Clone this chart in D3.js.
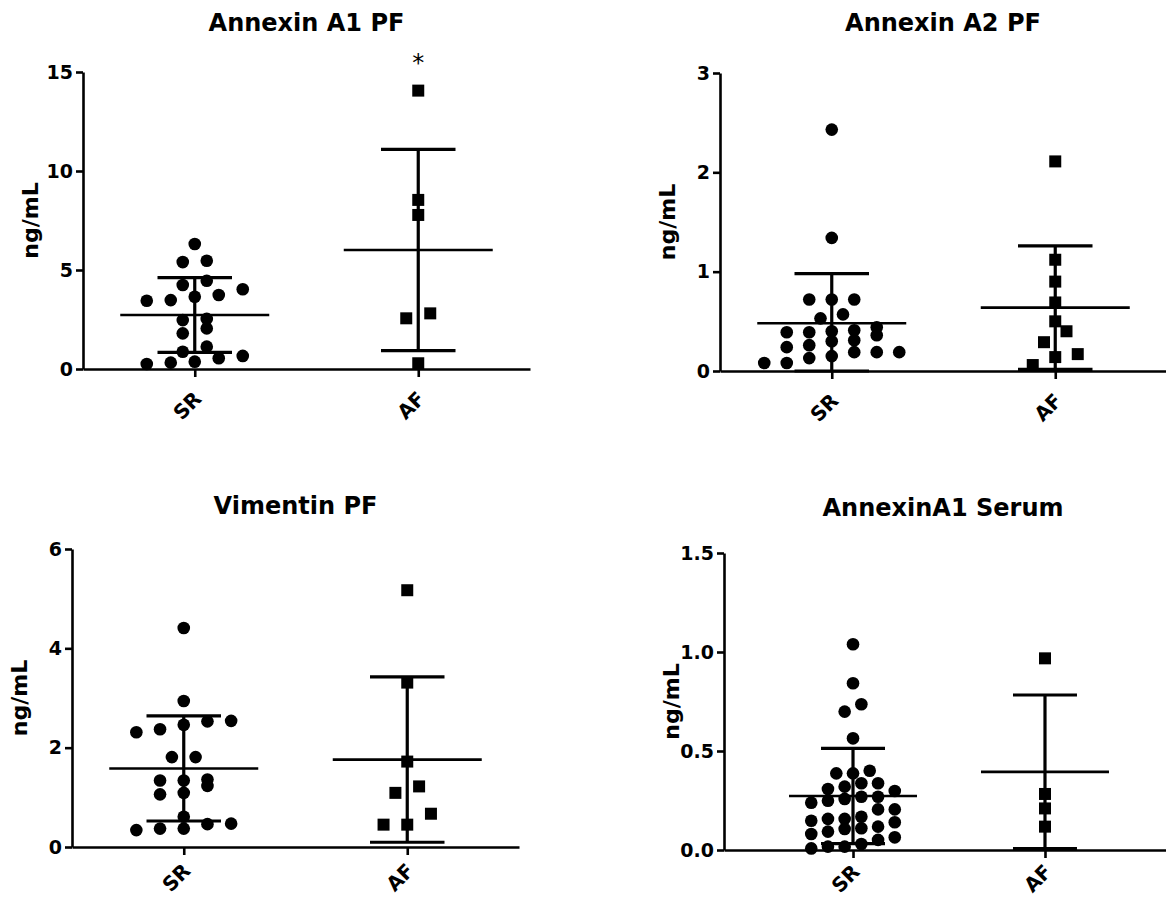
<!DOCTYPE html>
<html>
<head>
<meta charset="utf-8">
<script src="https://cdn.jsdelivr.net/npm/d3@7"></script>
<style>
  body { margin: 0; background: #fff; }
  text { font-family: "DejaVu Sans", "Liberation Sans", sans-serif; font-weight: bold; fill: #000; }
</style>
</head>
<body>
<svg id="chart" width="1166" height="901"></svg>
<script>
// groups on every x axis
const groups = ["SR", "AF"];

// Annexin A1 PF (ng/mL)
const a1pfSR = [6.31, 5.40, 5.47, 4.46, 4.24, 3.65, 3.74, 4.03, 3.45, 3.48, 2.53, 2.47, 2.05, 1.80, 1.13, 0.87, 0.66, 0.54, 0.37, 0.32, 0.25];
const a1pfAF = [14.06, 8.54, 7.78, 2.81, 2.56, 0.29];

// Annexin A2 PF
const a2pfSR = [2.43, 1.34, 0.72, 0.72, 0.72, 0.57, 0.53, 0.44, 0.41, 0.40, 0.39, 0.39, 0.36, 0.31, 0.30, 0.26, 0.24, 0.19, 0.19, 0.19, 0.15, 0.13, 0.08, 0.08];
const a2pfAF = [2.11, 1.12, 0.90, 0.69, 0.50, 0.40, 0.29, 0.17, 0.14, 0.06];

// Vimentin PF
const vimSR = [4.41, 2.94, 2.54, 2.53, 2.46, 2.37, 2.31, 1.81, 1.81, 1.36, 1.34, 1.34, 1.23, 1.09, 1.06, 0.61, 0.47, 0.46, 0.37, 0.37, 0.34];
const vimAF = [5.17, 3.31, 1.72, 1.22, 1.09, 0.67, 0.45, 0.45];

// AnnexinA1 Serum
const serSR = [1.039, 0.842, 0.736, 0.699, 0.564, 0.400, 0.387, 0.387, 0.337, 0.337, 0.320, 0.308, 0.298, 0.269, 0.269, 0.258, 0.249, 0.239,
  0.205, 0.205, 0.168, 0.157, 0.157, 0.148, 0.140, 0.118, 0.110, 0.106, 0.093, 0.081, 0.064, 0.051, 0.030, 0.017, 0.017, 0.008];
const serAF = [0.968, 0.283, 0.210, 0.118];

const titles = ["Annexin A1 PF", "Annexin A2 PF", "Vimentin PF", "AnnexinA1 Serum"];
const yTicks = [[0, 5, 10, 15], [0, 1, 2, 3], [0, 2, 4, 6], [0, 0.5, 1.0, 1.5]];
const tickFormats = ["d", "d", "d", ".1f"];
const marks = [["", "*"], ["", ""], ["", ""], ["", ""]];   // significance marks per group

const series = [[a1pfSR, a1pfAF], [a2pfSR, a2pfAF], [vimSR, vimAF], [serSR, serAF]];

// where each panel sits on the page
const panels = [
  { left: 83,  right: 530,  bottom: 369, top: 72,  pad: 0.5,   step: 24,   titleY: 31,  labY: 31 },
  { left: 720, right: 1167, bottom: 371, top: 73,  pad: 0.5,   step: 22.5, titleY: 31,  labY: 31 },
  { left: 72,  right: 519,  bottom: 847, top: 549, pad: 0.5,   step: 23.7, titleY: 514, labY: 25 },
  { left: 724, right: 1174, bottom: 850, top: 553, pad: 0.672, step: 16.7, titleY: 516, labY: 23 }
];

const svg = d3.select("#chart");

// simple Prism-like scatter: points close in y share a row, spread symmetric around the group centre
function swarm(values, y, cx, step, rowH) {
  const pts = values.map(v => ({ v: v, py: y(v) })).sort((a, b) => a.v - b.v);
  const rows = [];
  let cur = null;
  pts.forEach(d => {
    if (!cur || cur.start - d.py >= rowH) {
      cur = { start: d.py, pts: [] };
      rows.push(cur);
    }
    cur.pts.push(d);
  });
  rows.forEach(r => r.pts.forEach((d, i) => { d.px = cx + (i - (r.pts.length - 1) / 2) * step; }));
  return pts;
}

panels.forEach((p, k) => {
  const g = svg.append("g");
  const domMax = yTicks[k][yTicks[k].length - 1];

  const x = d3.scalePoint().domain(groups).range([p.left, p.right]).padding(p.pad);
  const y = d3.scaleLinear().domain([0, domMax]).range([p.bottom, p.top]);
  const bw = x.step();

  // title
  g.append("text")
    .attr("x", (p.left + Math.min(p.right, 1166)) / 2 + (k == 3 ? -2 : 0))
    .attr("y", p.titleY)
    .attr("text-anchor", "middle")
    .style("font-size", "24px")
    .text(titles[k]);

  // y axis
  const ya = g.append("g")
    .attr("transform", `translate(${p.left},0)`)
    .call(d3.axisLeft(y).tickValues(yTicks[k]).tickFormat(d3.format(tickFormats[k])).tickSize(7).tickSizeOuter(0).tickPadding(3));
  ya.select(".domain").attr("stroke-width", 2.6);
  ya.selectAll(".tick line").attr("stroke-width", 2.6);
  ya.selectAll(".tick text").style("font-size", "19px").attr("font-family", null);

  g.append("text")
    .attr("transform", `translate(${p.left - 53},${(p.top + p.bottom) / 2}) rotate(-90)`)
    .attr("text-anchor", "middle")
    .attr("dominant-baseline", "central")
    .style("font-size", "22px")
    .text("ng/mL");

  // x axis
  const xa = g.append("g")
    .attr("transform", `translate(0,${p.bottom})`)
    .call(d3.axisBottom(x).tickSize(8).tickSizeOuter(0));
  xa.select(".domain").attr("stroke-width", 2.6);
  xa.selectAll(".tick line").attr("stroke-width", 2.6);
  xa.selectAll(".tick text").remove();

  groups.forEach(gr => {
    g.append("text")
      .attr("transform", `translate(${x(gr) + 8},${p.bottom + p.labY}) rotate(-45)`)
      .attr("text-anchor", "end")
      .style("font-size", "20px")
      .text(gr);
  });

  // points and mean +/- SD
  groups.forEach((gr, j) => {
    const vals = series[k][j];
    const cx = x(gr);
    const pts = swarm(vals, y, cx, p.step, 12);
    const sym = d3.symbol().type(j == 0 ? d3.symbolCircle : d3.symbolSquare).size(j == 0 ? 125 : 144);

    g.append("g").selectAll("path")
      .data(pts)
      .join("path")
      .attr("transform", d => `translate(${d.px},${d.py})`)
      .attr("d", sym)
      .attr("fill", "#000");

    const m = d3.mean(vals), sd = d3.deviation(vals);
    const lo = Math.max(0, m - sd), hi = m + sd;
    const bars = g.append("g").attr("stroke", "#000").attr("fill", "none");
    bars.append("line").attr("x1", cx - bw / 3).attr("x2", cx + bw / 3).attr("y1", y(m)).attr("y2", y(m)).attr("stroke-width", 2.6);
    bars.append("line").attr("x1", cx).attr("x2", cx).attr("y1", y(lo)).attr("y2", y(hi)).attr("stroke-width", 3.2);
    bars.append("line").attr("x1", cx - bw / 6).attr("x2", cx + bw / 6).attr("y1", y(hi)).attr("y2", y(hi)).attr("stroke-width", 3.2);
    bars.append("line").attr("x1", cx - bw / 6).attr("x2", cx + bw / 6).attr("y1", y(lo)).attr("y2", y(lo)).attr("stroke-width", 3.2);

    if (marks[k][j]) {
      g.append("text")
        .attr("x", cx)
        .attr("y", y(d3.max(vals)) - 20)
        .attr("text-anchor", "middle")
        .style("font-size", "24px")
        .style("font-weight", "normal")
        .text(marks[k][j]);
    }
  });
});
</script>
</body>
</html>
